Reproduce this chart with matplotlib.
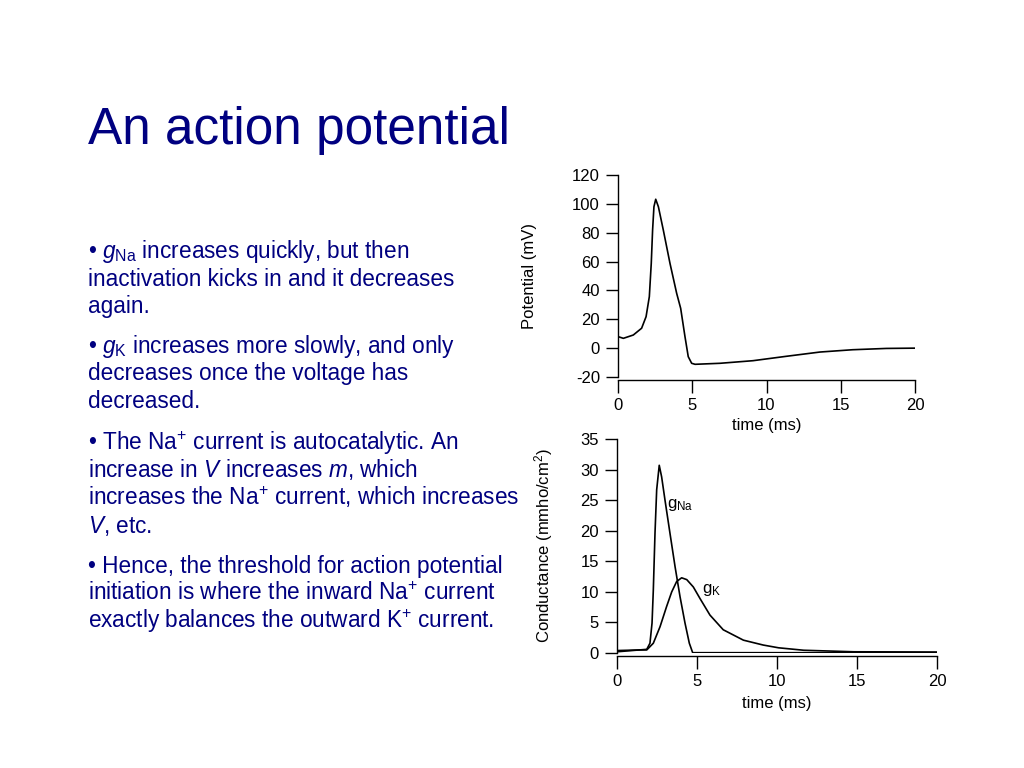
import matplotlib
matplotlib.use("Agg")
import matplotlib.pyplot as plt

plt.rcParams['font.family'] = ['Liberation Sans', 'DejaVu Sans']
plt.rcParams['mathtext.fontset'] = 'custom'
plt.rcParams['mathtext.rm'] = 'Liberation Sans'
plt.rcParams['mathtext.it'] = 'Liberation Sans:italic'
plt.rcParams['axes.unicode_minus'] = False

NAVY = "#000080"

# Membran potansiyeli (üst grafik)
t_v = [0.0, 0.36, 1.03, 1.59, 1.89, 2.11, 2.24, 2.33, 2.42, 2.54, 2.72, 3.05,
       3.5, 3.95, 4.22, 4.51, 4.73, 4.96, 5.19, 6.87, 9.09, 11.3, 13.6, 15.8,
       18.07, 20.0]
v = [8.0, 6.8, 9.1, 13.8, 21.8, 35.7, 58.8, 81.9, 98.0, 103.2, 98.0, 81.9,
     58.8, 38.0, 27.6, 8.0, -5.9, -10.5, -11.2, -10.5, -8.7, -5.7, -2.7, -1.1,
     -0.2, 0.0]

# Na iletkenliği
t_na = [0.0, 1.86, 2.06, 2.19, 2.27, 2.375, 2.48, 2.64, 2.79, 3.0, 3.31, 3.63,
        3.94, 4.25, 4.52, 4.73, 5.5, 10.0, 20.0]
g_na = [0.2, 0.6, 1.6, 4.9, 10.3, 19.6, 26.7, 30.7, 28.8, 25.0, 19.6, 14.1,
        9.2, 4.9, 1.6, 0.05, 0.05, 0.05, 0.05]

# K iletkenliği
t_k = [0.0, 1.46, 1.86, 2.27, 2.69, 3.1, 3.42, 3.73, 4.04, 4.36, 4.77, 5.19,
       5.81, 6.64, 7.9, 9.14, 10.1, 11.67, 14.8, 20.0]
g_k = [0.4, 0.5, 0.5, 1.6, 4.3, 7.6, 10.0, 11.7, 12.3, 12.0, 10.8, 8.9,
       6.2, 3.8, 2.1, 1.3, 0.85, 0.45, 0.2, 0.16]

title = "An action potential"
bullets = [
    [r"• $g_{\mathrm{Na}}$ increases quickly, but then",
     "inactivation kicks in and it decreases",
     "again."],
    [r"• $g_{\mathrm{K}}$ increases more slowly, and only",
     "decreases once the voltage has",
     "decreased."],
    [r"• The Na$^{+}$ current is autocatalytic. An",
     r"increase in $V$ increases $m$, which",
     r"increases the Na$^{+}$ current, which increases",
     r"$V$, etc."],
    ["• Hence, the threshold for action potential",
     r"initiation is where the inward Na$^{+}$ current",
     r"exactly balances the outward K$^{+}$ current."],
]
para_top = [258, 353, 450, 573]   # ilk satır taban çizgisi (px)
line_step = 27.5

W, H = 1024, 768
fig = plt.figure(figsize=(W / 100, H / 100), dpi=100)

fig.text(88 / W, 1 - 144 / H, title, fontsize=37, color=NAVY,
         ha="left", va="baseline")

for lines, y0 in zip(bullets, para_top):
    for i, s in enumerate(lines):
        fig.text(88 / W, 1 - (y0 + i * line_step) / H, s, fontsize=16.3,
                 color=NAVY, ha="left", va="baseline")


def style(ax):
    for side in ("top", "right"):
        ax.spines[side].set_visible(False)
    ax.spines["left"].set_linewidth(1.0)
    ax.spines["bottom"].set_linewidth(1.0)
    ax.tick_params(direction="out", length=9, width=1.0, pad=4,
                   labelsize=12)


# Üst: potansiyel
ax1 = fig.add_axes([618 / W, 1 - 377 / H, 297 / W, 202 / H])
ax1.plot(t_v, v, color="black", lw=1.2)
ax1.set_xlim(0, 20)
ax1.set_ylim(-20, 120)
ax1.set_xticks([0, 5, 10, 15, 20])
ax1.set_yticks(range(-20, 121, 20))
style(ax1)
ax1.spines["bottom"].set_position(("outward", 2))
ax1.set_ylabel("Potential (mV)", fontsize=12)
ax1.set_xlabel("time (ms)", fontsize=12)
ax1.yaxis.set_label_coords(-0.273, 0.5)
ax1.xaxis.set_label_coords(0.5, -0.205)

# Alt: iletkenlik
ax2 = fig.add_axes([617 / W, 1 - 653 / H, 320 / W, 214 / H])
ax2.plot(t_na, g_na, color="black", lw=1.2)
ax2.plot(t_k, g_k, color="black", lw=1.2)
ax2.set_xlim(0, 20)
ax2.set_ylim(0, 35)
ax2.set_xticks([0, 5, 10, 15, 20])
ax2.set_yticks(range(0, 36, 5))
style(ax2)
ax2.spines["bottom"].set_position(("outward", 2))
ax2.set_ylabel("Conductance (mmho/cm$^2$)", fontsize=12)
ax2.set_xlabel("time (ms)", fontsize=12)
ax2.yaxis.set_label_coords(-0.194, 0.5)
ax2.xaxis.set_label_coords(0.5, -0.2)
ax2.text(3.1, 24.2, r"g$_{\mathrm{Na}}$", fontsize=12, va="center")
ax2.text(5.3, 10.3, r"g$_{\mathrm{K}}$", fontsize=12, va="center")

fig.savefig("out.png", dpi=100)
